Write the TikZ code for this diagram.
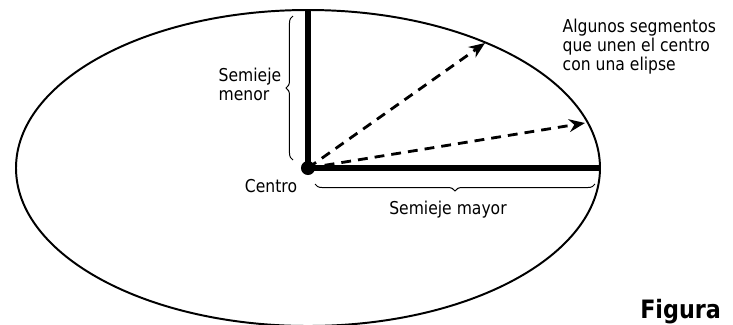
\documentclass[tikz,border=0pt]{standalone}
\usepackage{fontspec}
\setmainfont{DejaVu Sans}[FakeStretch=0.88]
\usepackage{tikz}
\usetikzlibrary{positioning,arrows.meta,calc,decorations.pathreplacing}
\tikzset{
  >={Stealth[length=4mm,width=3.2mm]},
  orbit/.style={line width=1.4pt},
  semiaxis/.style={line width=3.6pt},
  seg/.style={->,line width=2pt,dash pattern=on 7pt off 5pt},
  brc/.style={decorate,decoration={brace,amplitude=5pt},line width=0.7pt},
  lbl/.style={font=\fontsize{12.6}{13.5}\selectfont,inner sep=1pt},
  cdot/.style={circle,fill=black,inner sep=0pt,minimum size=10pt},
}
\begin{document}
\begin{tikzpicture}[x=0.025cm,y=0.025cm]
  \useasboundingbox (0,0) rectangle (733,-324);
  \clip (0,0) rectangle (733,-324);
  \coordinate (c) at (308,-168);
  \draw[orbit] (c) ellipse [x radius=292,y radius=158];
  \coordinate (top) at (308,-10);
  \coordinate (right) at (600,-168);
  % segments from the centre to the ellipse
  \coordinate (s1) at (485,-43);
  \coordinate (s2) at (585,-123);
  \draw[seg] (c) -- (s1);
  \draw[seg] (c) -- (s2);
  \draw[semiaxis] (c) -- (top);
  \draw[semiaxis] (c) -- (right);
  \node[cdot] (dot) at (c) {};
  % braces
  \coordinate (b1) at (293,-160);
  \coordinate (b2) at (293,-16);
  \coordinate (b3) at (595,-184);
  \coordinate (b4) at (315,-184);
  \draw[brc] (b1) -- (b2);
  \draw[brc] (b3) -- (b4);
  \node[lbl,anchor=west,align=left] (menor) at (217,-84) {Semieje\\menor};
  \node[lbl] (mayor) at (448,-210) {Semieje mayor};
  \node[lbl] (centro) at (271,-186) {Centro};
  \node[lbl,anchor=north west,align=left] (algunos) at (561,-17)
    {Algunos segmentos\\que unen el centro\\con una elipse};
  \node[anchor=base west,inner sep=0pt,font=\fontsize{18}{20}\selectfont\bfseries]
    (fig) at (640,-318) {Figura};
\end{tikzpicture}
\end{document}
